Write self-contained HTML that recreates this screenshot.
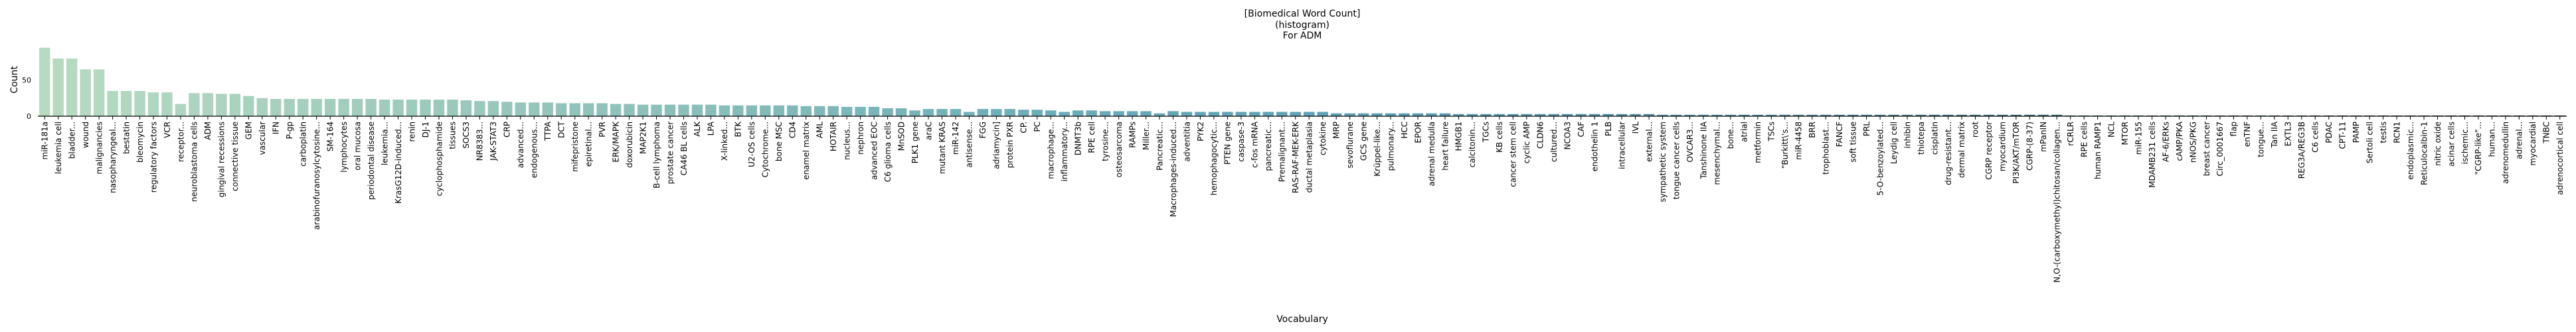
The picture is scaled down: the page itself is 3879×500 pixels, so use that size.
<!DOCTYPE html>
<html><head><meta charset="utf-8"><style>
html,body{margin:0;padding:0;background:#fff;}
svg{display:block;font-family:"DejaVu Sans","Liberation Sans","Noto Sans CJK SC",sans-serif;}
</style></head><body>
<svg id="chart" width="3879" height="500" viewBox="0 0 3879 500" xmlns="http://www.w3.org/2000/svg">
<g font-size="14" text-anchor="middle" fill="#000">
<text x="1961" y="25">[Biomedical Word Count]</text>
<text x="1961" y="42">(histogram)</text>
<text x="1961" y="58">For ADM</text>
</g>
<text transform="translate(26,120) rotate(-90)" font-size="14" text-anchor="middle">Count</text>
<text x="1961" y="485" font-size="14" text-anchor="middle">Vocabulary</text>
<g id="bars"></g><g id="yticks"></g><g id="xticks"></g>
<line x1="57" y1="175" x2="3865" y2="175" stroke="#000" stroke-width="1.2"/>
</svg>
<script>
const categories = ["miR-181a","leukemia cell","bladder...","wound","malignancies","nasopharyngeal...","bestatin","bleomycin","regulatory factors","VCR","receptor...","neuroblastoma cells","ADM","gingival recessions","connective tissue","GEM","vascular","IFN","P-gp","carboplatin","arabinofuranosylcytosine...","SM-164","lymphocytes","oral mucosa","periodontal disease","leukemia...","KrasG12D-induced...","renin","DJ-1","cyclophosphamide","tissues","SOCS3","NR8383...","JAK-STAT3","CRP","advanced...","endogenous...","TTPA","DCT","mifepristone","epiretinal...","PVR","ERK/MAPK","doxorubicin","MAP2K1","B-cell lymphoma","prostate cancer","CA46 BL cells","ALK","LPA","X-linked...","BTK","U2-OS cells","Cytochrome...","bone MSC","CD4","enamel matrix","AML","HOTAIR","nucleus...","nephron","advanced EOC","C6 glioma cells","MnSOD","PLK1 gene","araC","mutant KRAS","miR-142","antisense...","FGG","adriamycin]","protein PXR","CP.","PC","macrophage...","inflammatory...","DNMT3b","RPE cell","tyrosine...","osteosarcoma","RAMPs","Miller...","Pancreatic...","Macrophages-induced...","adventitia","PYK2","hemophagocytic...","PTEN gene","caspase-3","c-fos mRNA","pancreatic...","Premalignant...","RAS-RAF-MEK-ERK","ductal metaplasia","cytokine","MRP","sevoflurane","GCS gene","Krüppel-like...","pulmonary...","HCC","EPOR","adrenal medulla","heart failure","HMGB1","calcitonin...","TGCs","KB cells","cancer stem cell","cyclic AMP","CLDN6","cultured...","NCOA3","CAF","endothelin 1","PLB","intracellular","IVL","external...","sympathetic system","tongue cancer cells","OVCAR3...","Tanshinone IIA","mesenchymal...","bone...","atrial","metformin","TSCs","\"Burkitt\\'s...","miR-4458","BRR","trophoblast...","FANCF","soft tissue","PRL","5-O-benzoylated...","Leydig cell","inhibin","thiotepa","cisplatin","drug-resistant...","dermal matrix","root","CGRP receptor","myocardium","PI3K/AKT/mTOR","CGRP-(8-37)","mPanIN","N,O-(carboxymethyl)chitosan/collagen...","rCRLR","RPE cells","human RAMP1","NCL","MTOR","miR-155","MDAMB231 cells","AF-6/ERKs","cAMP/PKA","nNOS/PKG","breast cancer","Circ_0001667","flap","enTNF","tongue...","Tan IIA","EXTL3","REG3A/REG3B","C6 cells","PDAC","CPT-11","PAMP","Sertoli cell","testis","RCN1","endoplasmic...","Reticulocalbin-1","nitric oxide","acinar cells","ischemic...","\"CGRP-like\"...","human...","adrenomedullin","adrenal...","myocardial","TNBC","adrenocortical cell"];
const counts = [95,80,80,65,65,35,35,35,33,33,17,32,32,31,31,28,25,24,24,24,24,24,24,24,24,23,23,23,23,23,23,22,21,21,20,19,19,19,18,18,18,18,17,17,16,16,16,16,16,16,15,15,15,15,15,15,14,14,14,13,13,13,11,11,8,10,10,10,6,10,10,10,9,9,8,6,8,8,7,7,7,7,4,7,6,6,6,6,6,6,6,6,6,6,6,4,4,4,4,4,4,4,4,4,3,3,3,3,3,3,3,3,3,3,3,3,3,3,3,2,2,2,2,2,2,2,2,2,2,2,2,2,2,2,2,2,2,2,2,2,2,2,2,2,2,2,2,2,2,1,1,1,1,1,1,1,1,1,1,1,1,1,1,1,1,1,1,1,1,1,1,1,1,1,1,1,1,1,1,1,1,1,1,1,1,1,1];
const yTickValues = [0,50];
const yTickLabels = ["0","50"];

const NS="http://www.w3.org/2000/svg";
const X0=57, X1=3865, Y0=175, PX_PER_UNIT=1.086;
const n=categories.length, step=(X1-X0)/n;
function xScale(i){return X0+(i+0.5)*step;}
function yScale(v){return Y0-v*PX_PER_UNIT;}
const stops=[[0,[183,219,192]],[0.25,[139,191,186]],[0.4,[106,173,186]],[0.55,[88,158,181]],[0.7,[72,130,150]],[0.85,[58,92,108]],[1,[40,56,70]]];
function colorAt(t){for(let k=1;k<stops.length;k++){if(t<=stops[k][0]){const a=stops[k-1],b=stops[k];const f=(t-a[0])/(b[0]-a[0]);const c=a[1].map((v,j)=>Math.round(v+(b[1][j]-v)*f));return "rgb("+c.join(",")+")";}}return "rgb(40,56,70)";}
const bars=document.getElementById('bars'), xt=document.getElementById('xticks'), yt=document.getElementById('yticks');
const bw=step*0.8;
categories.forEach((c,i)=>{
  const r=document.createElementNS(NS,'rect');
  
  
  const y=yScale(counts[i]);
  r.setAttribute('x',xScale(i)-bw/2);r.setAttribute('y',y);
  r.setAttribute('width',bw);r.setAttribute('height',Y0-y);
  r.setAttribute('fill',colorAt(i/(n-1)));
  bars.appendChild(r);
  const tk=document.createElementNS(NS,'line');
  
  
  tk.setAttribute('x1',xScale(i));tk.setAttribute('x2',xScale(i));
  tk.setAttribute('y1',Y0);tk.setAttribute('y2',Y0+5);
  tk.setAttribute('stroke','#000');tk.setAttribute('stroke-width','1');
  xt.appendChild(tk);
  const t=document.createElementNS(NS,'text');
  
  
  t.setAttribute('transform','translate('+(xScale(i)+4.3)+','+(Y0+8)+') rotate(-90)');
  t.setAttribute('text-anchor','end');t.setAttribute('font-size','12');
  t.textContent=c;
  xt.appendChild(t);
});
yTickValues.forEach((v,i)=>{
  const t=document.createElementNS(NS,'text');
  
  
  t.setAttribute('x',47);t.setAttribute('y',yScale(v)+4);
  t.setAttribute('text-anchor','end');t.setAttribute('font-size','11');
  t.textContent=yTickLabels[i];
  yt.appendChild(t);
});
</script>
</body></html>
